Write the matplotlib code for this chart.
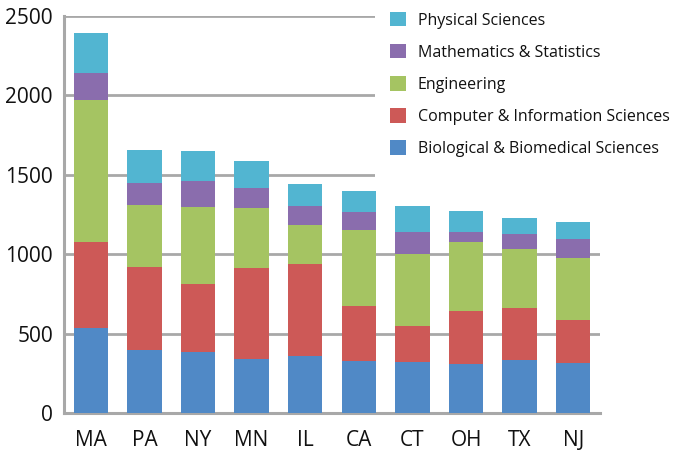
import matplotlib.pyplot as plt
from matplotlib.patches import Rectangle
import numpy as np

plt.rcParams['font.family'] = ['Open Sans', 'DejaVu Sans']

# degrees by state, stacked bottom to top
states = ['MA', 'PA', 'NY', 'MN', 'IL', 'CA', 'CT', 'OH', 'TX', 'NJ']
biological = [535, 395, 386, 338, 360, 325, 320, 310, 335, 315]
computer = [540, 525, 429, 572, 580, 350, 230, 330, 325, 270]
engineering = [895, 390, 485, 380, 245, 475, 450, 435, 375, 390]
mathematics = [170, 138, 160, 130, 120, 115, 140, 65, 90, 120]
physical = [250, 207, 190, 165, 135, 135, 165, 135, 100, 110]

series = [
    ('Biological & Biomedical Sciences', biological, '#5089C6'),
    ('Computer & Information Sciences', computer, '#CD5957'),
    ('Engineering', engineering, '#A5C462'),
    ('Mathematics & Statistics', mathematics, '#8A6DAD'),
    ('Physical Sciences', physical, '#52B5D1'),
]

fig = plt.figure(figsize=(6.76, 4.54), dpi=100)
ax = fig.add_axes([64/676, 41/454, 536/676, 397/454])

x = np.arange(len(states))
bottom = np.zeros(len(states))
handles = []
for name, vals, color in series:
    b = ax.bar(x, vals, width=0.64, bottom=bottom, color=color, label=name, zorder=3)
    bottom += np.array(vals)
    handles.append(b)

ax.set_xlim(-0.5, len(states) - 0.5)
ax.set_ylim(0, 2500)
ax.set_yticks([0, 500, 1000, 1500, 2000, 2500])
ax.set_xticks(x)
ax.set_xticklabels(states)
ax.tick_params(axis='both', length=0, labelsize=15, colors='#111111')
ax.tick_params(axis='x', pad=12)
ax.tick_params(axis='y', pad=8)

ax.grid(axis='y', color='#a8a8a8', linewidth=2, zorder=1)
ax.set_axisbelow(True)
for side in ['top', 'right']:
    ax.spines[side].set_visible(False)
for side in ['left', 'bottom']:
    ax.spines[side].set_color('#a8a8a8')
    ax.spines[side].set_linewidth(2.2)

# white block behind the legend hides the upper gridlines
ax.add_patch(Rectangle((375/676, 1 - 182/454), 1 - 375/676, 182/454,
                       transform=fig.transFigure, facecolor='white',
                       edgecolor='none', zorder=2, clip_on=False))

leg = ax.legend(handles[::-1], [s[0] for s in series][::-1],
                loc='upper left', bbox_to_anchor=(390/676, 1 - 12/454),
                bbox_transform=fig.transFigure, borderaxespad=0,
                fontsize=11.5, frameon=False, borderpad=0,
                handlelength=1.0, handleheight=1.0, handletextpad=0.75,
                labelspacing=0.97)
for t in leg.get_texts():
    t.set_color('#111111')

fig.savefig('out.png', dpi=100)
